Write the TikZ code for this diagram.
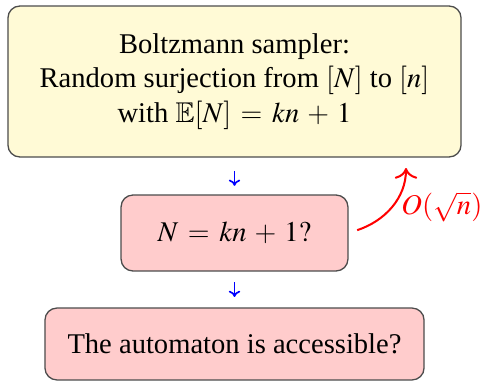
\documentclass[tikz,border=0pt]{standalone}
\usepackage{mathptmx}
\usepackage{amsfonts}
\usepackage{fontspec}
\setmainfont{Liberation Serif}
\DeclareSymbolFont{cmops}{OT1}{cmr}{m}{n}
\DeclareMathSymbol{+}{\mathbin}{cmops}{"2B}
\DeclareMathSymbol{=}{\mathrel}{cmops}{"3D}
\usetikzlibrary{arrows.meta}
\definecolor{paleyellow}{RGB}{255,250,214}
\definecolor{palepink}{RGB}{255,204,204}
\begin{document}
\begin{tikzpicture}[x=0.42pt,y=-0.42pt,
  box/.style={draw=black!70, line width=0.55pt, rounded corners=5pt, align=center, inner sep=0pt},
  yellowbox/.style={box, fill=paleyellow},
  pinkbox/.style={box, fill=palepink},
  flow/.style={-{To[length=2.6pt,width=4.8pt]}, blue, line width=0.7pt},
  cost/.style={-{To[scale=1.3]}, red, line width=0.85pt}]
\useasboundingbox (0,0) rectangle (483,381);
\fontsize{12}{14.4}\selectfont
\medmuskip=5mu plus 2mu minus 2mu
\thickmuskip=6mu plus 3mu
\node[yellowbox, minimum width=190.3pt, minimum height=63.4pt] (top) at (234.5,81.5)
  {Boltzmann sampler:\\ Random surjection from $[N]$ to $[n]$\\ with $\mathbb{E}[N] = kn + 1$};
\node[pinkbox, minimum width=95.3pt, minimum height=31.9pt] (mid) at (234.5,233) {$N = kn + 1?$};
\node[pinkbox, minimum width=159.2pt, minimum height=30.2pt] (bot) at (234.5,344) {The automaton is accessible?};
\draw[flow, shorten <=5.6pt, shorten >=3.6pt] (top) -- (mid);
\draw[flow, shorten <=4.4pt, shorten >=4.4pt] (mid) -- (bot);
\coordinate (tip) at (406,168);
\draw[cost, shorten <=3.8pt] (mid.east) .. controls (385,221) and (406,198) .. (tip);
\node[red, anchor=west, inner sep=0pt] (lab) at (401,207) {$O(\sqrt{n})$};
\end{tikzpicture}
\end{document}
